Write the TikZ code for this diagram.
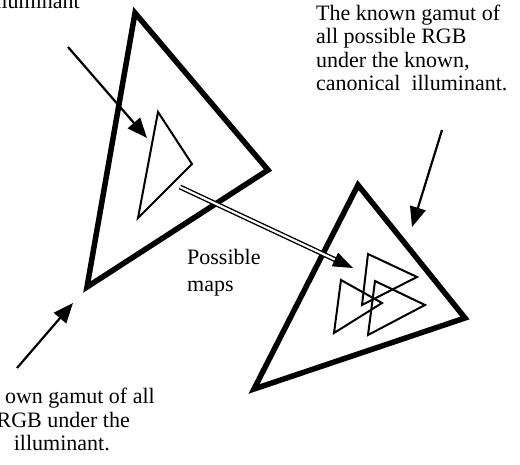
\documentclass[tikz,border=0pt]{standalone}
\usepackage{fontspec}
\setmainfont{Liberation Serif}
\usetikzlibrary{arrows.meta,calc}
\begin{document}
\begin{tikzpicture}[x=1pt,y=-1pt,
  bigtri/.style={line width=5.5pt, line join=miter},
  smalltri/.style={line width=2pt, line join=miter},
  pointer/.style={line width=2.2pt, -{Triangle[length=20pt,width=16pt]}},
  dbl/.style={line width=1.4pt, double, double distance=2.2pt},
  lbl/.style={font=\fontsize{22}{23.5}\selectfont, inner sep=0pt, align=left},
  lblb/.style={font=\fontsize{22}{27}\selectfont, inner sep=0pt, align=left}
]
\useasboundingbox (0,0) rectangle (520,464);
\clip (0,0) rectangle (520,464);
% left gamut
\draw[bigtri] (135,13) -- (268,170) -- (87,287) -- cycle;
\draw[smalltri] (158,112) -- (192,164) -- (138,218) -- cycle;
% right gamut
\draw[bigtri] (358,185) -- (465,318) -- (254,389) -- cycle;
\draw[smalltri] (368,254) -- (417,277) -- (362,305) -- cycle;
\draw[smalltri] (341,280) -- (382,303) -- (334,333) -- cycle;
\draw[smalltri] (375,281) -- (425,305) -- (368,335) -- cycle;
% texts
\node[lbl, anchor=base east] (tl) at (80,8) {illuminant};
\node[lbl, anchor=base west] (tr) at (316,90.5) {The known gamut of\\all possible RGB\\under the known,\\canonical~ illuminant.};
\node[lbl, anchor=base east] (bl1) at (155,403) {own gamut of all};
\node[lbl, anchor=base east] (bl2) at (130,427) {RGB under the};
\node[lbl, anchor=base east] (bl3) at (110,450) {illuminant.};
\node[lblb, anchor=base west] (pm) at (187,291) {Possible\\maps};
% pointers
\coordinate (p1s) at (68,47);   \coordinate (p1e) at (147,138);
\coordinate (p2s) at (17,368);  \coordinate (p2e) at (73,303);
\coordinate (p3s) at (442,130); \coordinate (p3e) at (412,227);
\draw[pointer] (p1s) -- (p1e);
\draw[pointer] (p2s) -- (p2e);
\draw[pointer] (p3s) -- (p3e);
% possible maps arrow
\coordinate (dt) at (180,187);
\coordinate (dh) at (353,268);
\coordinate (db) at ($(dh)!20pt!(dt)$);
\draw[dbl] (dt) -- ($(dh)!17pt!(dt)$);
\fill ($(db)!7.5pt!90:(dh)$) -- (dh) -- ($(db)!7.5pt!-90:(dh)$) -- cycle;
\end{tikzpicture}
\end{document}
